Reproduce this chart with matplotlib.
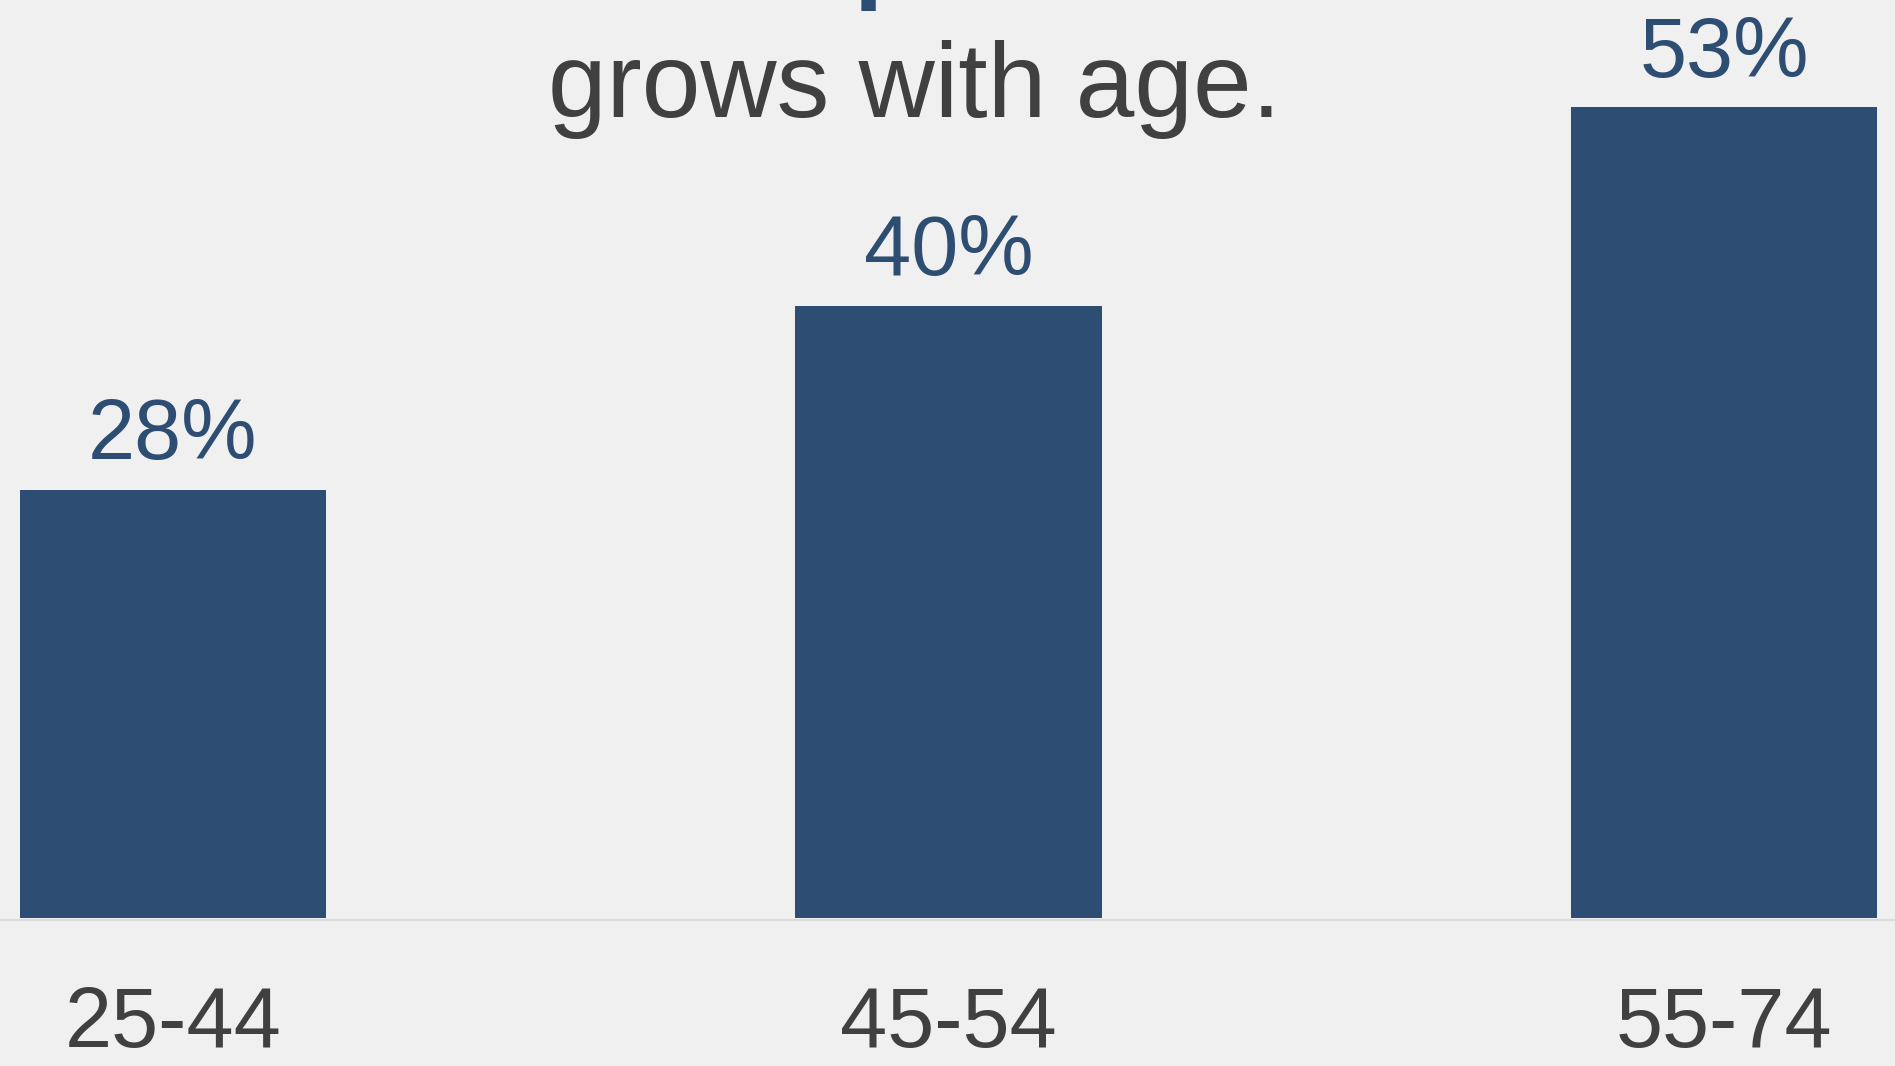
import matplotlib
matplotlib.use("Agg")
import matplotlib.pyplot as plt

# data
age_groups = ["25-44", "45-54", "55-74"]
shares = [28, 40, 53]

BAR_COLOR = "#2D4D72"
TEXT_GREY = "#404040"
BG = "#F0F0F0"

plt.rcParams["font.family"] = ["Liberation Sans", "DejaVu Sans"]

fig = plt.figure(figsize=(18.95, 10.66), dpi=100)
fig.patch.set_facecolor(BG)
ax = fig.add_axes([0, 0, 1, 1])
ax.set_facecolor(BG)

x = list(range(len(age_groups)))
ax.bar(x, shares, width=0.395, color=BAR_COLOR, zorder=3)
ax.axhline(-0.1, color="#DADADA", linewidth=1.5, zorder=2)

# value labels above bars
for xi, v in zip(x, shares):
    ax.text(xi, v + 2.0, f"{v}%", ha="center", va="baseline",
            fontsize=61, color=BAR_COLOR)

# category labels under baseline (kept just inside the bottom edge)
for xi, lab in zip(x, age_groups):
    ax.text(xi, -8.4, lab, ha="center", va="baseline",
            fontsize=61, color=TEXT_GREY)

ax.set_xlim(-0.223, 2.2205)
ax.set_ylim(-9.67, 60.0)
ax.axis("off")

# title (first line is cut off by the top edge, only a descender shows)
fig.text(853 / 1895, 1 + 11 / 1066, "p", ha="left", va="baseline",
         fontsize=76, fontweight="bold", color=BAR_COLOR)
fig.text(915 / 1895, 1 - 117 / 1066, "grows with age.", ha="center",
         va="baseline", fontsize=76, color=TEXT_GREY)

fig.savefig("out.png", dpi=100, facecolor=BG)
